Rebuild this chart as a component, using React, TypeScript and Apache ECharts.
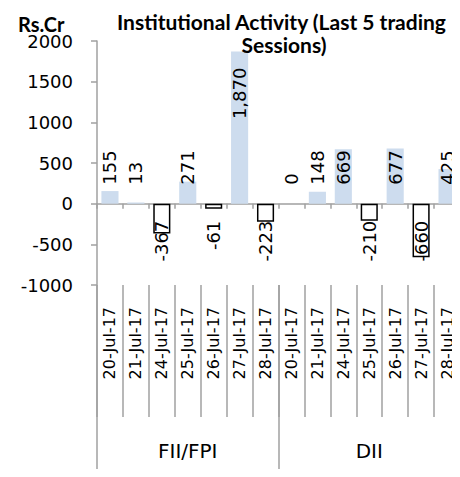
import React, { useEffect, useRef } from "react";
import * as echarts from "echarts";

const dates = [
  "20-Jul-17", "21-Jul-17", "24-Jul-17", "25-Jul-17", "26-Jul-17", "27-Jul-17", "28-Jul-17",
  "20-Jul-17", "21-Jul-17", "24-Jul-17", "25-Jul-17", "26-Jul-17", "27-Jul-17", "28-Jul-17",
];
const groups = ["FII/FPI", "DII"];
const fiiValues = [155, 13, -367, 271, -61, 1870, -223];
const diiValues = [0, 148, 669, -210, 677, -660, 425];
const yTicks = { min: -1000, max: 2000, interval: 500 };

const FONT = "DejaVu Sans";
const AXIS_COLOR = "#a0a0a0";

export default function App() {
  const ref = useRef<HTMLDivElement>(null);
  useEffect(() => {
    if (!ref.current) return;
    const chart = echarts.init(ref.current, undefined, { renderer: "svg" });
    const values = [...fiiValues, ...diiValues];
    const fmt = (v: number) => v.toLocaleString("en-US");
    const data = values.map((v) => {
      const neg = v < 0;
      const tall = v >= 1000;
      return {
        value: v,
        itemStyle: neg
          ? { color: "#ffffff", borderColor: "#000000", borderWidth: 1.5 }
          : { color: "#cddcee" },
        label: {
          show: true,
          rotate: 90,
          position: neg || tall ? "insideTop" : "insideBottom",
          distance: neg ? 17 : tall ? 16 : 19,
          align: neg || tall ? "right" : "left",
          verticalAlign: "middle",
          formatter: () => fmt(v),
          color: "#000",
          fontFamily: FONT,
          fontSize: 18,
        },
      };
    });
    chart.setOption({
      animation: false,
      title: {
        text: "Institutional Activity (Last 5 trading \nSessions)",
        left: 279,
        textAlign: "center",
        top: 5,
        textStyle: {
          fontFamily: "Lato",
          fontWeight: "bold",
          fontSize: 21,
          lineHeight: 23,
          color: "#000",
        },
      },
      graphic: [
        {
          type: "text",
          left: 18,
          top: 14,
          style: {
            text: "Rs.Cr",
            fontFamily: "Lato",
            fontWeight: "bold",
            fontSize: 20,
            lineHeight: 17,
            fill: "#000",
          },
        },
      ],
      grid: { left: 97, right: 0, top: 41, bottom: 192, containLabel: false },
      xAxis: [
        {
          type: "category",
          data: dates,
          position: "bottom",
          axisLine: { onZero: true, lineStyle: { color: AXIS_COLOR, width: 1.5 } },
          axisTick: { show: true, interval: 0, alignWithLabel: false, length: 5, lineStyle: { color: AXIS_COLOR, width: 1.5 } },
          axisLabel: { show: false },
          splitLine: { show: false },
        },
        {
          type: "category",
          data: dates,
          position: "bottom",
          axisLine: { show: false, onZero: false },
          axisTick: { show: true, interval: 0, alignWithLabel: false, length: 132, lineStyle: { color: AXIS_COLOR, width: 1.5 } },
          axisLabel: {
            show: true,
            interval: 0,
            rotate: 90,
            margin: 22,
            color: "#000",
            fontFamily: FONT,
            fontSize: 16,
          },
        },
        {
          type: "category",
          data: groups,
          position: "bottom",
          axisLine: { show: false, onZero: false },
          axisTick: { show: true, interval: 0, alignWithLabel: false, length: 192, lineStyle: { color: AXIS_COLOR, width: 1.5 } },
          axisLabel: {
            show: true,
            interval: 0,
            margin: 156,
            color: "#000",
            fontFamily: FONT,
            fontSize: 20,
          },
        },
      ],
      yAxis: {
        type: "value",
        min: yTicks.min,
        max: yTicks.max,
        interval: yTicks.interval,
        axisLine: { show: true, lineStyle: { color: AXIS_COLOR, width: 1.5 } },
        axisTick: { show: true, length: 6, lineStyle: { color: AXIS_COLOR, width: 1.5 } },
        axisLabel: {
          margin: 24,
          color: "#000",
          fontFamily: FONT,
          fontSize: 18,
          formatter: (v: number) => String(v),
        },
        splitLine: { show: false },
      },
      series: [
        {
          type: "bar",
          xAxisIndex: 0,
          data,
          barWidth: "66%",
        },
      ],
    });
    return () => chart.dispose();
  }, []);
  return <div ref={ref} style={{ width: 460, height: 477, margin: -8 }} />;
}
